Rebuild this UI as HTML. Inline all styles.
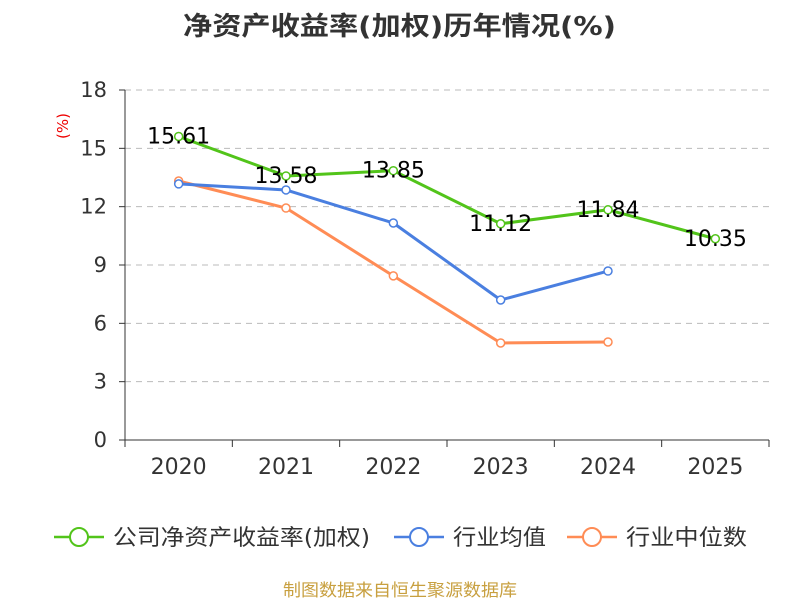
<!DOCTYPE html>
<html><head><meta charset="utf-8">
<style>
body{margin:0;background:#fff;}
svg text{font-family:"DejaVu Sans","Noto Sans CJK SC",sans-serif;}
</style></head>
<body>
<svg id="chart" width="800" height="600" xmlns="http://www.w3.org/2000/svg">
<text x="183" y="35" font-size="26" font-weight="bold" fill="#333" textLength="433" lengthAdjust="spacingAndGlyphs">净资产收益率(加权)历年情况(%)</text>
<text x="68" y="126" text-anchor="middle" font-size="15" fill="#e00" transform="rotate(-90 68 126)">(%)</text>
<g id="grid"></g><g id="axes"></g><g id="series"></g>
<g font-size="22" fill="#333">
 <g><line x1="54" y1="537" x2="104" y2="537" stroke="#52c41a" stroke-width="2.5"/><circle cx="79" cy="537" r="9" fill="#fff" stroke="#52c41a" stroke-width="2"/><text x="113" y="545" textLength="257" lengthAdjust="spacingAndGlyphs">公司净资产收益率(加权)</text></g>
 <g><line x1="394" y1="537" x2="444" y2="537" stroke="#4a7fe0" stroke-width="2.5"/><circle cx="419" cy="537" r="9" fill="#fff" stroke="#4a7fe0" stroke-width="2"/><text x="453" y="545" textLength="93" lengthAdjust="spacingAndGlyphs">行业均值</text></g>
 <g><line x1="567" y1="537" x2="617" y2="537" stroke="#ff8c55" stroke-width="2.5"/><circle cx="592" cy="537" r="9" fill="#fff" stroke="#ff8c55" stroke-width="2"/><text x="626" y="545" textLength="121" lengthAdjust="spacingAndGlyphs">行业中位数</text></g>
</g>
<text x="400" y="596" text-anchor="middle" font-size="17" fill="#c8a040" textLength="234" lengthAdjust="spacingAndGlyphs">制图数据来自恒生聚源数据库</text>
</svg>
<script>
const categories=["2020","2021","2022","2023","2024","2025"];
const companyValues=[15.61,13.58,13.85,11.12,11.84,10.35];
const industryAvg=[13.17,12.86,11.16,7.2,8.69,null];
const industryMedian=[13.32,11.93,8.44,4.99,5.04,null];
const yTicks=[0,3,6,9,12,15,18];
const NS="http://www.w3.org/2000/svg";
const x0=125,x1=769,y0=440,y1=90,yMax=18;
const band=(x1-x0)/categories.length;
const xs=i=>x0+band*(i+0.5);
const ys=v=>y0-(v/yMax)*(y0-y1);
function mk(parent,tag,attrs){const e=document.createElementNS(NS,tag);for(const k in attrs)e.setAttribute(k,attrs[k]);document.getElementById(parent).appendChild(e);return e;}
yTicks.forEach(t=>{
 if(t>0){const g=mk('grid','line',{x1:x0,x2:x1,y1:ys(t),y2:ys(t),stroke:'#bbb','stroke-dasharray':'6,5'});
 
 }
 const tk=mk('axes','line',{x1:x0-6,x2:x0,y1:ys(t),y2:ys(t),stroke:'#333'});
 
 
 const l=mk('axes','text',{x:x0-18,y:ys(t)+7,'text-anchor':'end','font-size':21,fill:'#333'});l.textContent=t;
 
 
});
let ya=mk('axes','line',{x1:x0,x2:x0,y1:y1,y2:y0,stroke:'#333'});


let xa=mk('axes','line',{x1:x0,x2:x1,y1:y0,y2:y0,stroke:'#333'});


for(let i=0;i<=categories.length;i++){const t=mk('axes','line',{x1:x0+band*i,x2:x0+band*i,y1:y0,y2:y0+7,stroke:'#333'});
 
 }
categories.forEach((c,i)=>{const l=mk('axes','text',{x:xs(i),y:474,'text-anchor':'middle','font-size':22,fill:'#333'});l.textContent=c;
 
 });
function series(vals,color,name,labels){
 const pts=vals.map((v,i)=>v==null?null:[xs(i),ys(v)]).filter(p=>p);
 const p=mk('series','polyline',{points:pts.map(p=>p.join(',')).join(' '),fill:'none',stroke:color,'stroke-width':3,'stroke-linejoin':'round'});
 
 
 vals.forEach((v,i)=>{if(v==null)return;
  const c=mk('series','circle',{cx:xs(i),cy:ys(v),r:4,fill:'#fff',stroke:color,'stroke-width':1.5});
  
  
 });
 if(labels)vals.forEach((v,i)=>{const t=mk('series','text',{x:xs(i),y:ys(v)+7,'text-anchor':'middle','font-size':22,fill:'#000'});t.textContent=v.toFixed(2);
  
  });
}
series(industryMedian,'#ff8c55','industry-median',false);
series(industryAvg,'#4a7fe0','industry-avg',false);
series(companyValues,'#52c41a','company-roe',true);
</script>
</body></html>
